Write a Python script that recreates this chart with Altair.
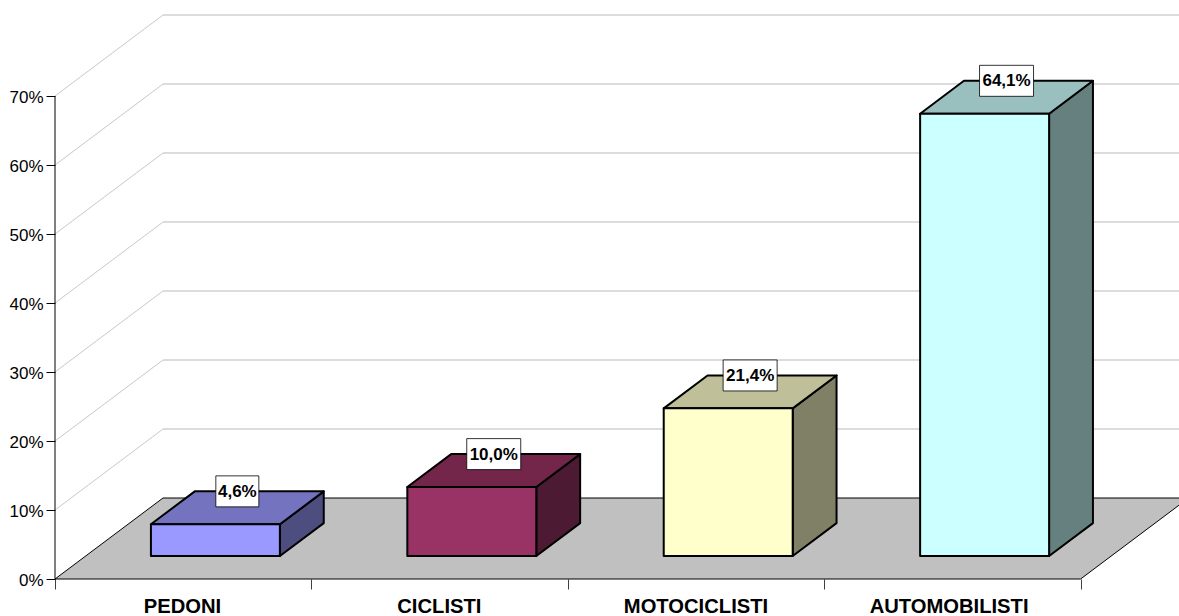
import altair as alt
import pandas as pd

# Road-user shares shown as a pseudo-3D column chart
categories = ["PEDONI", "CICLISTI", "MOTOCICLISTI", "AUTOMOBILISTI"]
category_centers = [0.497, 1.499, 2.5, 3.487]
shares = [0.046, 0.100, 0.214, 0.641]
labels = ["4,6%", "10,0%", "21,4%", "64,1%"]
front_colors = ["#9999FF", "#993366", "#FFFFCC", "#CCFFFF"]
top_colors = ["#7373BF", "#732649", "#BFBF99", "#99BFBF"]
side_colors = ["#4D4D80", "#4D1A33", "#808066", "#668080"]
y_ticks = [0.0, 0.1, 0.2, 0.3, 0.4, 0.5, 0.6, 0.7]
x_ticks = [0, 1, 2, 3, 4]

FONT = "Liberation Sans"
PX_PER_CAT = 256.4
PX_PER_UNIT = 690.0
PLOT_W, PLOT_H = 1124, 564

# Oblique projection: how far one full unit of depth shifts a point
SHIFT_X = 108 / PX_PER_CAT
SHIFT_Y = 81 / PX_PER_UNIT
BAR_WIDTH = 0.503
BAR_CENTER = 0.506
DEPTH_FRONT = 0.284
DEPTH_BACK = 0.69
DEPTH_LABEL = 0.487


def proj_x(x, depth):
    return x + depth * SHIFT_X


def proj_y(y, depth):
    return y + depth * SHIFT_Y


x_scale = alt.Scale(domain=[0, PLOT_W / PX_PER_CAT], nice=False, zero=False)
y_scale = alt.Scale(domain=[0, PLOT_H / PX_PER_UNIT], nice=False, zero=False)

# Every layer shares the same axis definitions so they merge into one
x_axis = alt.Axis(
    values=x_ticks,
    labels=False,
    domain=False,
    grid=False,
    tickSize=10,
    tickColor="#404040",
    tickWidth=1,
)
y_axis = alt.Axis(
    values=y_ticks,
    format=".0%",
    domain=False,
    grid=False,
    tickSize=9,
    tickColor="#000000",
    tickWidth=1,
    labelFont=FONT,
    labelFontSize=17,
    labelColor="#000000",
    labelPadding=3,
    labelOffset=1,
)


def X(field="x", **kw):
    return alt.X(f"{field}:Q", scale=x_scale, title=None, axis=x_axis, **kw)


def Y(field="y", **kw):
    return alt.Y(f"{field}:Q", scale=y_scale, title=None, axis=y_axis, **kw)


# Floor parallelogram
floor_df = pd.DataFrame(
    [
        {"y": proj_y(0, d), "x": proj_x(0, d), "x_end": proj_x(4, d)}
        for d in (0, 1)
    ]
)
floor = (
    alt.Chart(floor_df)
    .mark_area(orient="horizontal", fill="#C0C0C0", stroke="#000000", strokeWidth=1)
    .encode(x=X(stack=None), x2="x_end:Q", y=Y())
)

# Gridlines across the back wall and the diagonal side wall
wall_rows = [
    {"level": v, "x": proj_x(0, 1), "y": proj_y(v, 1)} for v in y_ticks[1:]
] + [{"level": v, "x": PLOT_W / PX_PER_CAT, "y": proj_y(v, 1)} for v in y_ticks[1:]]
back_grid = (
    alt.Chart(pd.DataFrame(wall_rows))
    .mark_line(color="#D0D0D0", strokeWidth=1.6)
    .encode(x=X(), y=Y(), detail="level:N")
)
side_rows = [
    {"level": v, "x": proj_x(0, d), "y": proj_y(v, d)}
    for v in y_ticks[1:]
    for d in (0, 1)
]
side_grid = (
    alt.Chart(pd.DataFrame(side_rows))
    .mark_line(color="#C8C8C8", strokeWidth=1)
    .encode(x=X(), y=Y(), detail="level:N")
)

left_line = (
    alt.Chart(pd.DataFrame({"x": [0], "y": [y_ticks[0]], "y_end": [y_ticks[-1]]}))
    .mark_rule(color="#000000", strokeWidth=1)
    .encode(x=X(), y=Y(), y2="y_end:Q")
)

# Column faces
front_rows, top_rows, side_rows_bar, box_rows = [], [], [], []
for i, (cat, val, lab) in enumerate(zip(categories, shares, labels)):
    left = i + BAR_CENTER - BAR_WIDTH / 2
    right = i + BAR_CENTER + BAR_WIDTH / 2
    front_rows.append(
        {
            "cat": cat,
            "x": proj_x(left, DEPTH_FRONT),
            "x_end": proj_x(right, DEPTH_FRONT),
            "y": proj_y(val, DEPTH_FRONT),
            "y_end": proj_y(0, DEPTH_FRONT),
            "fill": front_colors[i],
        }
    )
    for d in (DEPTH_FRONT, DEPTH_BACK):
        top_rows.append(
            {
                "cat": cat,
                "x": proj_x(left, d),
                "x_end": proj_x(right, d),
                "y": proj_y(val, d),
                "fill": top_colors[i],
            }
        )
        side_rows_bar.append(
            {
                "cat": cat,
                "x": proj_x(right, d),
                "y": proj_y(val, d),
                "y_end": proj_y(0, d),
                "fill": side_colors[i],
            }
        )
    half_w = (43 if len(lab) == 4 else 54) / 2 / PX_PER_CAT
    half_h = 15.5 / PX_PER_UNIT
    cx = proj_x(i + BAR_CENTER, DEPTH_LABEL)
    cy = proj_y(val, DEPTH_BACK)
    box_rows.append(
        {
            "label": lab,
            "cx": cx,
            "cy": cy,
            "x": cx - half_w,
            "x_end": cx + half_w,
            "y": cy - half_h,
            "y_end": cy + half_h,
        }
    )

BAR_STROKE = {"stroke": "#000000", "strokeWidth": 2, "strokeJoin": "round"}

front = (
    alt.Chart(pd.DataFrame(front_rows))
    .mark_rect(**BAR_STROKE)
    .encode(
        x=X(),
        x2="x_end:Q",
        y=Y(),
        y2="y_end:Q",
        fill=alt.Fill("fill:N", scale=None),
    )
)
top = (
    alt.Chart(pd.DataFrame(top_rows))
    .mark_area(orient="horizontal", **BAR_STROKE)
    .encode(
        x=X(stack=None),
        x2="x_end:Q",
        y=Y(),
        fill=alt.Fill("fill:N", scale=None),
        detail="cat:N",
    )
)
side = (
    alt.Chart(pd.DataFrame(side_rows_bar))
    .mark_area(**BAR_STROKE)
    .encode(
        x=X(),
        y=Y(stack=None),
        y2="y_end:Q",
        fill=alt.Fill("fill:N", scale=None),
        detail="cat:N",
    )
)

# Boxed value labels
box_df = pd.DataFrame(box_rows)
boxes = (
    alt.Chart(box_df)
    .mark_rect(fill="#FFFFFF", stroke="#000000", strokeWidth=0.8)
    .encode(x=X(), x2="x_end:Q", y=Y(), y2="y_end:Q")
)
box_text = (
    alt.Chart(box_df)
    .mark_text(font=FONT, fontSize=17, fontWeight="bold", color="#000000", baseline="middle", dy=0.5)
    .encode(x=X("cx"), y=Y("cy"), text="label:N")
)

# Category names under the axis
cat_df = pd.DataFrame({"x": category_centers, "label": categories})
cat_text = (
    alt.Chart(cat_df)
    .mark_text(font=FONT, fontSize=20.2, fontWeight="bold", color="#000000", baseline="alphabetic")
    .encode(x=X(), y=alt.value(PLOT_H + 34), text="label:N")
)

chart = (
    alt.layer(
        back_grid,
        side_grid,
        floor,
        left_line,
        side,
        top,
        front,
        boxes,
        box_text,
        cat_text,
    )
    .properties(
        width=PLOT_W,
        height=PLOT_H,
        padding={"left": 55, "top": 15, "right": 0, "bottom": 37},
        autosize=alt.AutoSizeParams(type="none"),
        background="#FFFFFF",
    )
    .configure_view(stroke=None)
)

chart.save("out.html", embed_options={"renderer": "svg", "actions": False})
